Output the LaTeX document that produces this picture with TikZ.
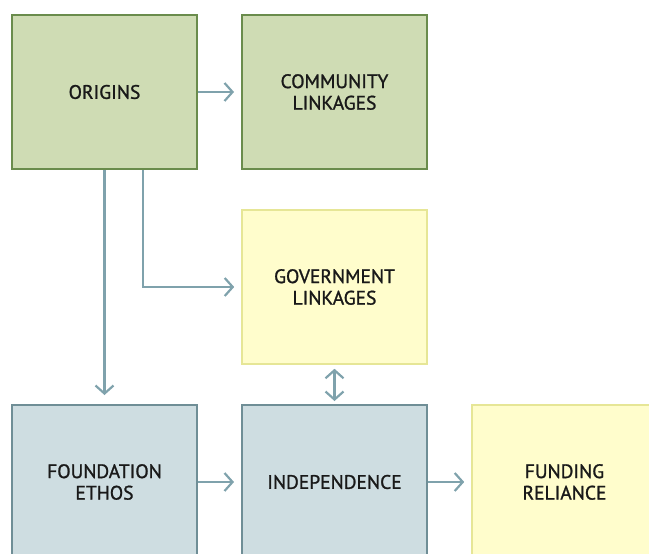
\documentclass[tikz,border=0pt]{standalone}
\usepackage{fontspec}
\setmainfont{PT Sans}[FakeBold=1.2]
\usetikzlibrary{arrows.meta}
\definecolor{gfill}{HTML}{CFDCB4}
\definecolor{gline}{HTML}{6A8C4C}
\definecolor{yfill}{HTML}{FFFDCC}
\definecolor{yline}{HTML}{E6E696}
\definecolor{bfill}{HTML}{CEDDE1}
\definecolor{bline}{HTML}{6F8E96}
\definecolor{arrc}{HTML}{7FA2AC}
\tikzset{
  box/.style={rectangle, minimum width=185pt, minimum height=154pt, inner sep=0pt,
    align=center, font=\fontsize{19.5pt}{21.5pt}\selectfont, text=black!90, line width=2pt},
  gbox/.style={box, fill=gfill, draw=gline},
  ybox/.style={box, fill=yfill, draw=yline, line width=1.6pt},
  bbox/.style={box, fill=bfill, draw=bline},
  arr/.style={draw=arrc, line width=2.2pt, -{Straight Barb[length=8pt,width=18pt]}},
  darr/.style={draw=arrc, line width=2.2pt, {Straight Barb[length=8pt,width=18pt]}-{Straight Barb[length=8pt,width=18pt]}}
}
\begin{document}
\begin{tikzpicture}[x=1pt,y=-1pt]
\useasboundingbox (0,0) rectangle (649,554);
\begin{scope}
\clip (0,0) rectangle (649,554);
\node[gbox] (origins) at (104.5,92) {ORIGINS};
\node[gbox] (community) at (334.5,92) {COMMUNITY\\LINKAGES};
\node[ybox] (government) at (334.5,287) {GOVERNMENT\\LINKAGES};
\node[bbox] (foundation) at (104.5,482) {FOUNDATION\\ETHOS};
\node[bbox] (independence) at (334.5,482) {INDEPENDENCE};
\node[ybox] (funding) at (564.5,482) {FUNDING\\RELIANCE};
\end{scope}
\coordinate (split) at ([xshift=38.5pt]origins.south);
\draw[arr, shorten >=7pt] (origins.east) -- (community.west);
\draw[arr, shorten >=9pt] (origins.south) -- (foundation.north);
\draw[arr, shorten >=7pt] (split) |- (government.west);
\draw[darr, shorten >=3pt, shorten <=4pt] (government.south) -- (independence.north);
\draw[arr, shorten >=7pt] (foundation.east) -- (independence.west);
\draw[arr, shorten >=7pt] (independence.east) -- (funding.west);
\end{tikzpicture}
\end{document}
